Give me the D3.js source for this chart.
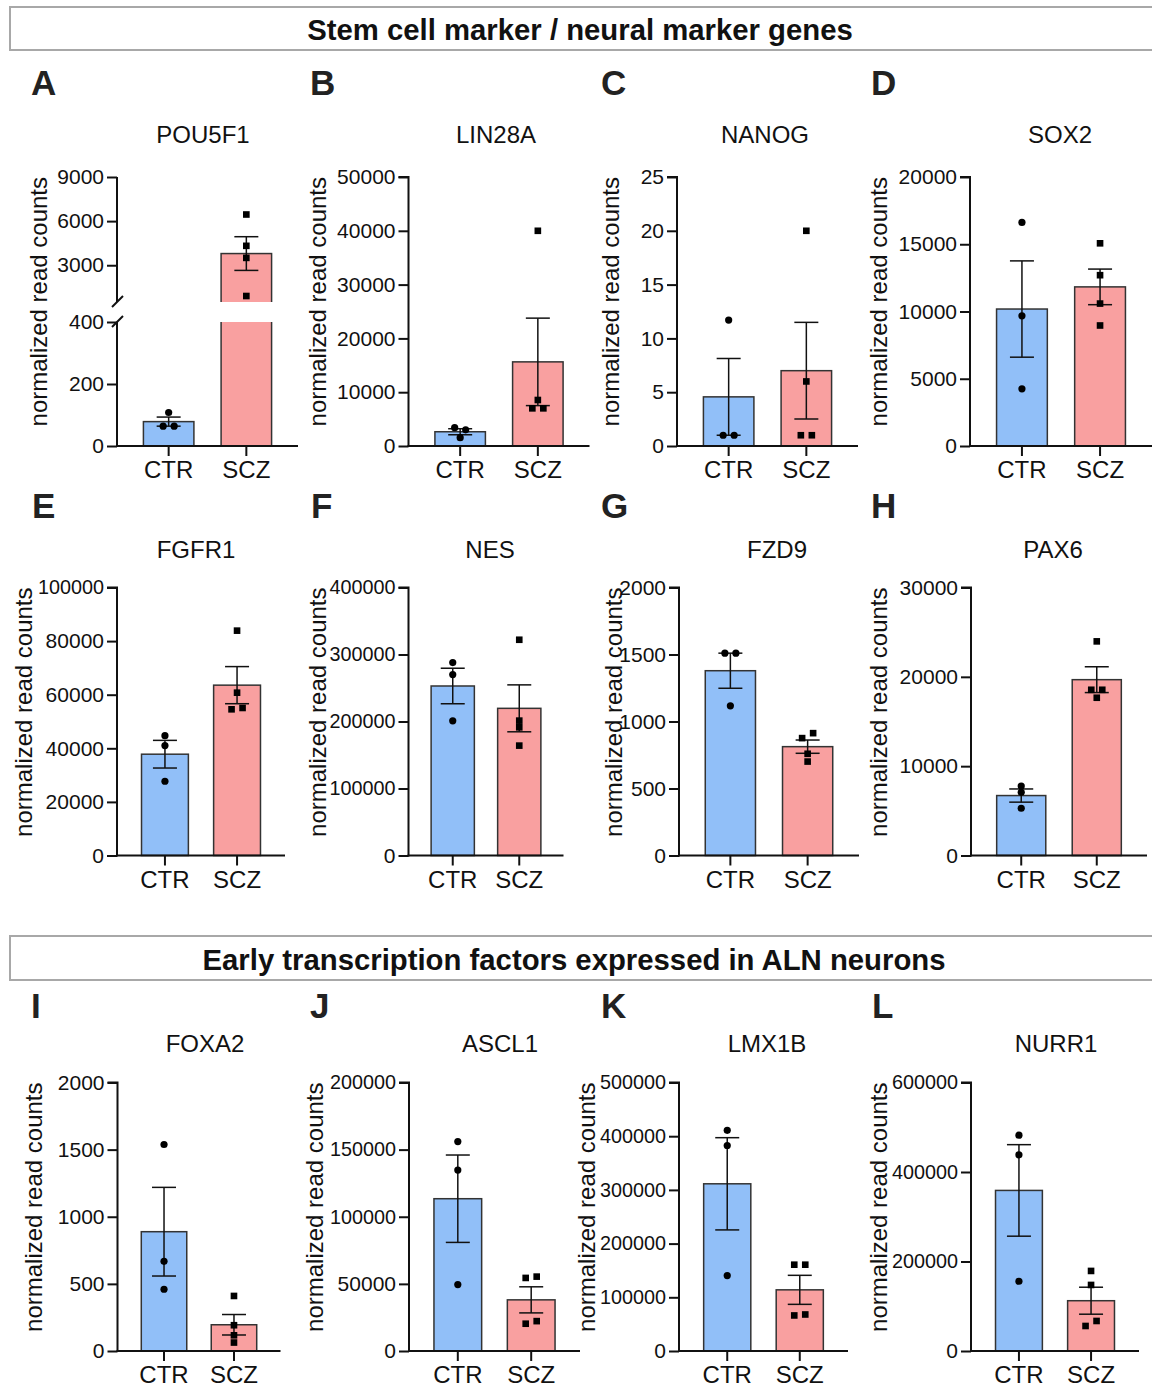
<!DOCTYPE html>
<html><head><meta charset="utf-8">
<script src="https://cdn.jsdelivr.net/npm/d3@7"></script>
<style>
body{margin:0;background:#fff}
svg{display:block}
text{font-family:"Liberation Sans",Arial,Helvetica,sans-serif}
</style>
</head><body>
<svg id="chart" width="1152" height="1390"></svg>
<script>
// ---------------- DATA ----------------
const groups = ["CTR", "SCZ"];
const genes = ["POU5F1","LIN28A","NANOG","SOX2","FGFR1","NES","FZD9","PAX6","FOXA2","ASCL1","LMX1B","NURR1"];
const panelLetters = ["A","B","C","D","E","F","G","H","I","J","K","L"];
const sectionTitles = ["Stem cell marker / neural marker genes","Early transcription factors expressed in ALN neurons"];
const yAxisTitle = "normalized read counts";

const yTicks = [
  [0,200,400,3000,6000,9000],
  [0,10000,20000,30000,40000,50000],
  [0,5,10,15,20,25],
  [0,5000,10000,15000,20000],
  [0,20000,40000,60000,80000,100000],
  [0,100000,200000,300000,400000],
  [0,500,1000,1500,2000],
  [0,10000,20000,30000],
  [0,500,1000,1500,2000],
  [0,50000,100000,150000,200000],
  [0,100000,200000,300000,400000,500000],
  [0,200000,400000,600000]
];
// POU5F1 axis break: lower segment up to 400, upper segment from 500
const breakLow = 400, breakHigh = 500;

const ctrValues = [
  [108, 64, 64],
  [3400, 3000, 1550],
  [11.7, 1, 1],
  [16620, 9680, 4250],
  [44700, 41000, 27700],
  [288000, 270000, 201000],
  [1510, 1510, 1117],
  [7770, 7070, 5290],
  [1538, 668, 460],
  [156000, 134800, 49500],
  [411000, 382700, 140400],
  [482300, 438300, 155900]
];
const sczValues = [
  [6450, 4320, 3500, 907],
  [40000, 8550, 7000, 7000],
  [20, 6, 1, 1],
  [15070, 12700, 10590, 8960],
  [83900, 60750, 54550, 55050],
  [322000, 201300, 191300, 164000],
  [876, 913, 759, 701],
  [23970, 18550, 18550, 17660],
  [410, 192, 117, 63],
  [54430, 55400, 20320, 22250],
  [160700, 160700, 66200, 68000],
  [178900, 147600, 55900, 67100]
];

// ---------------- LAYOUT ----------------
const colors = {CTR: "#91BFF8", SCZ: "#F9A0A0"};
const rows = [
  {top: 177, zero: 446, title: 143, letter: 95},
  {top: 587.5, zero: 855.5, title: 558, letter: 518},
  {top: 1082.5, zero: 1351, title: 1052, letter: 1018}
];
const panelLayout = [
  {axisX: 117,   width: 181, labelOff: 70,  letterX: 31,  titleX: 203},
  {axisX: 408.5, width: 181, labelOff: 83,  letterX: 310, titleX: 496},
  {axisX: 677,   width: 181, labelOff: 58,  letterX: 601, titleX: 765},
  {axisX: 970,   width: 182, labelOff: 83,  letterX: 871, titleX: 1060},
  {axisX: 117,   width: 168, labelOff: 85,  letterX: 32,  titleX: 196},
  {axisX: 408.5, width: 155, labelOff: 83,  letterX: 311, titleX: 490},
  {axisX: 679,   width: 180, labelOff: 57,  letterX: 601, titleX: 777},
  {axisX: 971,   width: 176, labelOff: 84,  letterX: 871, titleX: 1053},
  {axisX: 117.5, width: 163, labelOff: 76,  letterX: 31,  titleX: 205},
  {axisX: 409,   width: 171, labelOff: 86,  letterX: 310, titleX: 500},
  {axisX: 679,   width: 169, labelOff: 84,  letterX: 601, titleX: 767},
  {axisX: 971,   width: 168, labelOff: 84,  letterX: 872, titleX: 1056}
];
const headerBoxes = [{y: 7, h: 43, textY: 40, textX: 580}, {y: 936, h: 44, textY: 970, textX: 574}];

const svg = d3.select("#chart");

// headers
headerBoxes.forEach((b, i) => {
  svg.append("rect").attr("x", 10).attr("y", b.y).attr("width", 1160).attr("height", b.h)
    .attr("fill", "none").attr("stroke", "#a8a8a8").attr("stroke-width", 2);
  svg.append("text").attr("x", b.textX).attr("y", b.textY).attr("text-anchor", "middle")
    .attr("font-size", 29.3).attr("font-weight", "bold").attr("fill", "#111").text(sectionTitles[i]);
});

function spreadOffsets(vals, y, thr = 5.5, sp = 11) {
  const idx = vals.map((v, i) => i).sort((a, b) => vals[b] - vals[a]);
  const res = new Array(vals.length).fill(0);
  let grp = [idx[0]];
  const flush = () => {
    const g = grp.slice().sort((a, b) => a - b);
    g.forEach((k, j) => res[k] = (j - (g.length - 1) / 2) * sp);
  };
  for (let k = 1; k < idx.length; k++) {
    if (Math.abs(y(vals[idx[k]]) - y(vals[grp[grp.length - 1]])) < thr) grp.push(idx[k]);
    else { flush(); grp = [idx[k]]; }
  }
  flush();
  return res;
}

genes.forEach((gene, p) => {
  const row = rows[Math.floor(p / 4)];
  const L = panelLayout[p];
  const g = svg.append("g");
  const ticks = yTicks[p];
  const yMax = ticks[ticks.length - 1];
  const hasBreak = p === 0;
  let y;
  if (hasBreak) {
    y = d3.scaleLinear().domain([0, breakLow, breakHigh, yMax])
      .range([row.zero, row.zero - 124, row.zero - 144, row.top]);
  } else {
    y = d3.scaleLinear().domain([0, yMax]).range([row.zero, row.top]);
  }
  const x = d3.scaleBand().domain(groups).range([L.axisX, L.axisX + L.width])
    .paddingInner(0.35).paddingOuter(0.34);

  // panel letter
  svg.append("text").attr("x", L.letterX).attr("y", row.letter).attr("font-size", 35)
    .attr("font-weight", "bold").attr("fill", "#222").text(panelLetters[p]);
  // gene title
  g.append("text").attr("x", L.titleX).attr("y", row.title).attr("text-anchor", "middle")
    .attr("font-size", 24).attr("fill", "#111").text(gene);

  const data = [ctrValues[p], sczValues[p]];
  // bars
  groups.forEach((grp, gi) => {
    const vals = data[gi];
    const m = d3.mean(vals);
    const sem = d3.deviation(vals) / Math.sqrt(vals.length);
    const bx = x(grp), bw = x.bandwidth(), cx = bx + bw / 2;
    g.append("rect").attr("x", bx).attr("y", y(m)).attr("width", bw).attr("height", y(0) - y(m))
      .attr("fill", colors[grp]).attr("stroke", "#333").attr("stroke-width", 1.5);
    if (hasBreak && m > breakHigh) {
      g.append("rect").attr("x", bx - 2).attr("y", y(breakHigh)).attr("width", bw + 4)
        .attr("height", y(breakLow) - y(breakHigh)).attr("fill", "#fff");
    }
    // error bar
    const eb = g.append("g").attr("stroke", "#111").attr("stroke-width", 1.5);
    eb.append("line").attr("x1", cx).attr("x2", cx).attr("y1", y(m - sem)).attr("y2", y(m + sem));
    [m - sem, m + sem].forEach(v => eb.append("line").attr("x1", cx - 12).attr("x2", cx + 12)
      .attr("y1", y(v)).attr("y2", y(v)));
    // points
    const offs = spreadOffsets(vals, y);
    vals.forEach((v, i) => {
      if (grp === "CTR") {
        g.append("circle").attr("cx", cx + offs[i]).attr("cy", y(v)).attr("r", 3.6).attr("fill", "#000");
      } else {
        g.append("path").attr("d", d3.symbol(d3.symbolSquare, 44)())
          .attr("transform", `translate(${cx + offs[i]},${y(v)})`).attr("fill", "#000");
      }
    });
  });

  // y axis
  const fmt = d3.format("d");
  const ya = g.append("g").attr("transform", `translate(${L.axisX},0)`)
    .call(d3.axisLeft(y).tickValues(ticks).tickSize(10).tickPadding(3).tickFormat(fmt));
  ya.selectAll("text").attr("font-size", d => fmt(d).length >= 6 ? 19.8 : 21).attr("fill", "#111")
    .style("font-family", '"Liberation Sans",Arial,sans-serif');
  ya.selectAll("line").attr("stroke", "#111").attr("stroke-width", 2);
  if (hasBreak) {
    ya.select(".domain").remove();
    const segs = [[0, breakLow], [breakHigh, yMax]];
    segs.forEach(s => ya.append("line").attr("x1", 0).attr("x2", 0).attr("y1", y(s[0]) + (s[0] === 0 ? 1 : 0)).attr("y2", y(s[1]))
      .attr("stroke", "#111").attr("stroke-width", 2));
    [breakLow, breakHigh].forEach(v => ya.append("line").attr("x1", -5).attr("x2", 6)
      .attr("y1", y(v) + 5).attr("y2", y(v) - 6).attr("stroke", "#111").attr("stroke-width", 2));
  } else {
    ya.select(".domain").attr("stroke", "#111").attr("stroke-width", 2).attr("d", `M0,${y(0) + 1}V${y(yMax)}H-10`);
  }

  // x axis
  const xa = g.append("g").attr("transform", `translate(0,${row.zero})`)
    .call(d3.axisBottom(x).tickSize(10).tickPadding(5).tickSizeOuter(0));
  xa.select(".domain").attr("stroke", "#111").attr("stroke-width", 2)
    .attr("d", `M${L.axisX - 1},0H${L.axisX + L.width}`);
  xa.selectAll("line").attr("stroke", "#111").attr("stroke-width", 2);
  xa.selectAll("text").attr("font-size", 24).attr("fill", "#111").style("font-family", '"Liberation Sans",Arial,sans-serif');

  // y axis title
  g.append("text").attr("transform", `translate(${L.axisX - L.labelOff},${row.top}) rotate(-90)`)
    .attr("text-anchor", "end").attr("font-size", 24).attr("fill", "#111").text(yAxisTitle);
});
</script>
</body></html>
